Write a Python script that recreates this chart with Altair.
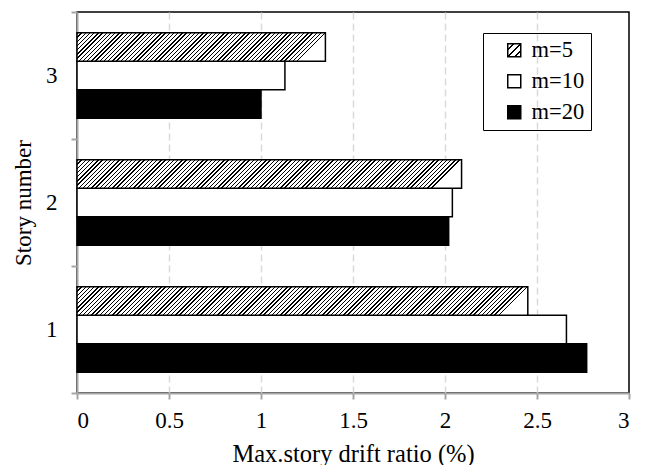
import altair as alt

# ---- data ----
stories = ["1", "2", "3"]
series = ["m=5", "m=10", "m=20"]
m5 = [2.45, 2.09, 1.35]
m10 = [2.66, 2.04, 1.13]
m20 = [2.77, 2.02, 1.00]
x_ticks = [0, 0.5, 1, 1.5, 2, 2.5, 3]

# ---- layout ----
W, H = 552, 381
XMAX = 3.0
OFF_PAD = 0.728  # outer padding of the bars inside each story band
PX_PER_UNIT = W / XMAX
BAR_H = (H / 3) / (3 + 2 * OFF_PAD)
FONT = "Liberation Serif"


def hatch(value, period=4.2, line=1.4):
    """Diagonal hatch as a hard-stop linear gradient sized to the bar."""
    w = value * PX_PER_UNIT
    h = BAR_H
    L = w + h * h / w
    stops = []
    c = 0.0
    while c < L:
        a = round(c / L, 5)
        b = round(min((c + line) / L, 1.0), 5)
        e = round(min((c + period) / L, 1.0), 5)
        stops += [
            {"offset": a, "color": "black"},
            {"offset": b, "color": "black"},
            {"offset": b, "color": "white"},
            {"offset": e, "color": "white"},
        ]
        c += period
    return {"gradient": "linear", "x1": 0, "y1": 0, "x2": 1, "y2": h / w, "stops": stops}


legend_hatch = (
    "{'gradient': 'linear', 'x1': 0, 'y1': 0, 'x2': 1, 'y2': 1, 'stops': ["
    "{'offset': 0, 'color': 'white'}, {'offset': 0.2, 'color': 'white'},"
    "{'offset': 0.2, 'color': 'black'}, {'offset': 0.28, 'color': 'black'},"
    "{'offset': 0.28, 'color': 'white'}, {'offset': 0.46, 'color': 'white'},"
    "{'offset': 0.46, 'color': 'black'}, {'offset': 0.54, 'color': 'black'},"
    "{'offset': 0.54, 'color': 'white'}, {'offset': 0.72, 'color': 'white'},"
    "{'offset': 0.72, 'color': 'black'}, {'offset': 0.8, 'color': 'black'},"
    "{'offset': 0.8, 'color': 'white'}, {'offset': 1, 'color': 'white'}]}"
)

rows_plain = []
for s, v in zip(stories, m10):
    rows_plain.append({"story": s, "series": "m=10", "value": v})
for s, v in zip(stories, m20):
    rows_plain.append({"story": s, "series": "m=20", "value": v})

rows_hatch = [{"story": s, "series": "m=5", "value": v, "grad": hatch(v)} for s, v in zip(stories, m5)]

y_enc = alt.Y(
    "story:N",
    sort=["3", "2", "1"],
    scale=alt.Scale(paddingInner=0, paddingOuter=0),
    axis=alt.Axis(
        title="Story number",
        tickBand="extent",
        labelAngle=0,
        labelPadding=14,
        titlePadding=10,
        titleFontSize=23,
        grid=False,
    ),
)
yoff_enc = alt.YOffset(
    "series:N",
    sort=series,
    scale=alt.Scale(domain=series, paddingInner=0, paddingOuter=OFF_PAD),
)
x_enc = alt.X(
    "value:Q",
    scale=alt.Scale(domain=[0, XMAX], nice=False, zero=True),
    axis=alt.Axis(
        title="Max.story drift ratio (%)",
        values=x_ticks,
        format="~g",
        grid=True,
        gridColor="#d9d9d9",
        gridDash=[7, 4],
        gridWidth=1.5,
        gridOpacity={"condition": {"test": "datum.value === 0 || datum.value === 3", "value": 0}, "value": 1},
        labelPadding=10,
        titlePadding=10,
        titleFontSize=24.5,
    ),
)

plain = alt.Chart(alt.Data(values=rows_plain)).mark_bar(stroke="black", strokeWidth=1.5).encode(
    x=x_enc,
    y=y_enc,
    yOffset=yoff_enc,
    fill=alt.Fill(
        "series:N",
        scale=alt.Scale(domain=series, range=[{"expr": legend_hatch}, "white", "black"]),
        legend=alt.Legend(
            title=None,
            orient="none",
            legendX=406,
            legendY=21,
            strokeColor="black",
            padding=6,
            symbolType="square",
            symbolSize=169,
            symbolStrokeColor="black",
            symbolStrokeWidth=1.5,
            symbolOpacity=1,
            symbolOffset=14,
            labelOffset=6,
            rowPadding=8,
            labelFont=FONT,
            labelFontSize=22.5,
            labelColor="black",
        ),
    ),
)

hatched = alt.Chart(alt.Data(values=rows_hatch)).mark_bar(stroke="black", strokeWidth=1.5).encode(
    x=x_enc,
    y=y_enc,
    yOffset=yoff_enc,
    fill=alt.Fill("grad:N", scale=None),
)

chart = (
    alt.layer(plain, hatched)
    .properties(
        width=W,
        height=H,
        autosize=alt.AutoSizeParams(type="none"),
        padding={"left": 69, "top": 4, "right": 9, "bottom": 72},
        background="white",
    )
    .configure(font=FONT)
    .configure_view(stroke="black", strokeWidth=1.5)
    .configure_axis(
        domainColor="#a6a6a6",
        domainWidth=2,
        tickColor="#a6a6a6",
        tickWidth=2,
        tickSize=6,
        labelFont=FONT,
        labelFontSize=23,
        labelColor="black",
        titleFont=FONT,
        titleFontWeight="normal",
        titleColor="black",
    )
)

chart.save("out.html", embed_options={"renderer": "svg", "actions": False})
